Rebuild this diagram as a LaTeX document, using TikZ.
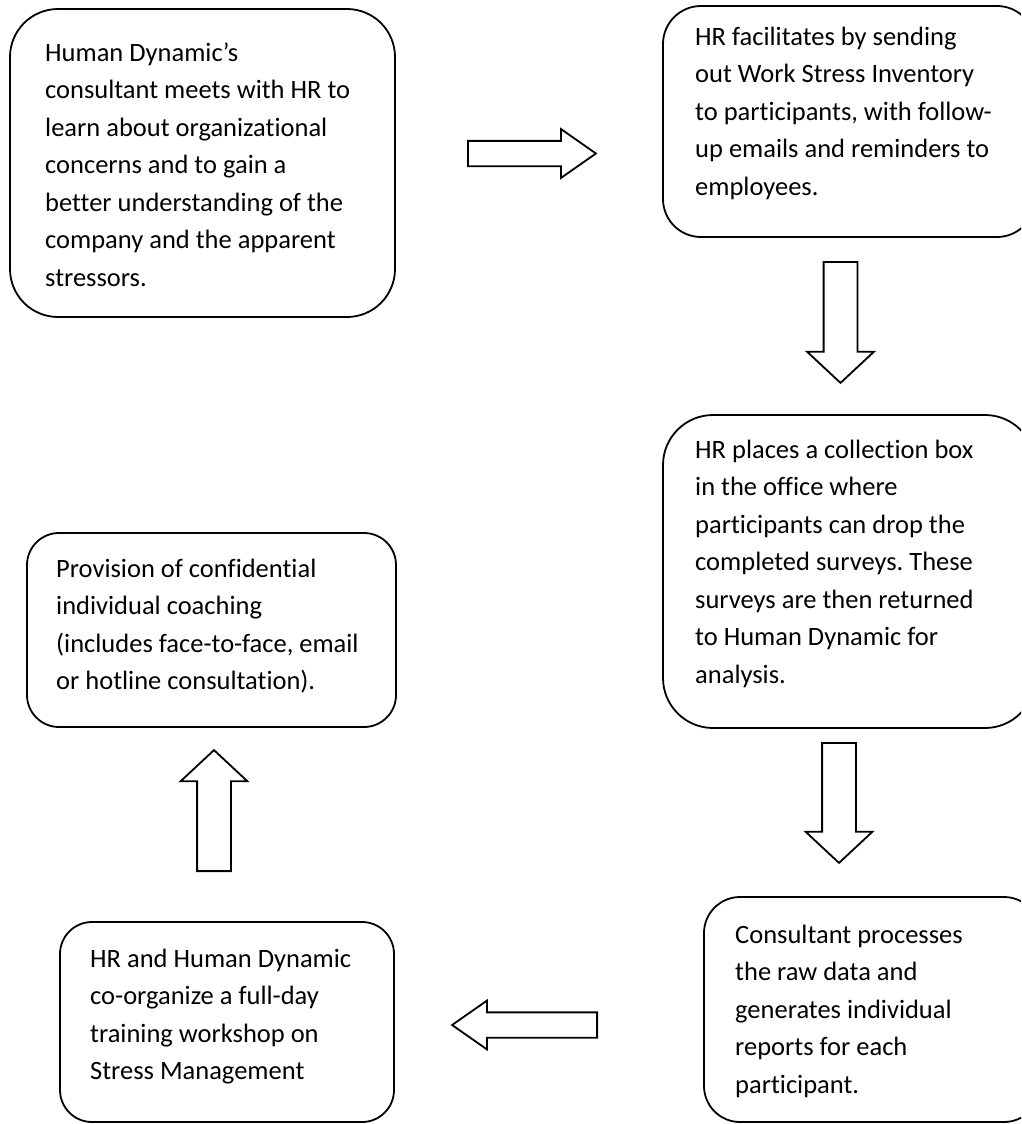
\documentclass[tikz,border=0pt]{standalone}
\usepackage{fontspec}
\setmainfont{Carlito}[Ligatures=NoCommon]
\usetikzlibrary{shapes.arrows}
\frenchspacing

\tikzset{
  stagebox/.style={draw, line width=1.8pt, rectangle, inner sep=0pt},
  stagetext/.style={anchor=north west, inner sep=0pt, align=left, font=\fontsize{26.5}{37.5}\selectfont},
  hollowarrow/.style={draw, line width=1.8pt, single arrow, inner sep=0pt, single arrow head indent=0pt},
  flatarrow/.style={hollowarrow, inner ysep=11.75pt, single arrow head extend=11.75pt, single arrow tip angle=70},
  tallarrow/.style={hollowarrow, inner ysep=16pt, single arrow head extend=16.5pt, single arrow tip angle=94}
}

\begin{document}
\begin{tikzpicture}[x=1pt, y=-1pt]
\clip (0,0) rectangle (1021,1124);
\fill[white] (0,0) rectangle (1021,1124);

% boxes
\node[stagebox, minimum width=385, minimum height=308, rounded corners=48pt] (b1) at (202.5,163) {};
\node[stagebox, minimum width=372, minimum height=231, rounded corners=38pt] (b2) at (849,121.5) {};
\node[stagebox, minimum width=372, minimum height=313, rounded corners=50pt] (b3) at (849,571.5) {};
\node[stagebox, minimum width=336, minimum height=225, rounded corners=36pt] (b4) at (872,1009.5) {};
\node[stagebox, minimum width=334, minimum height=200, rounded corners=32pt] (b5) at (227,1022) {};
\node[stagebox, minimum width=369, minimum height=194, rounded corners=32pt] (b6) at (211.5,630) {};

% texts
\node[stagetext] (t1) at (45,34.75) {\strut Human Dynamic’s\\consultant meets with HR to\\learn about organizational\\concerns and to gain a\\better understanding of the\\company and the apparent\\stressors.};
\node[stagetext] (t2) at (695,18.75) {\strut HR facilitates by sending\\out Work Stress Inventory\\to participants, with follow-\\up emails and reminders to\\employees.};
\node[stagetext] (t3) at (695,431.75) {\strut HR places a collection box\\in the office where\\participants can drop the\\completed surveys. These\\surveys are then returned\\to Human Dynamic for\\analysis.};
\node[stagetext] (t4) at (735,916.75) {\strut Consultant processes\\the raw data and\\generates individual\\reports for each\\participant.};
\node[stagetext] (t5) at (90,940.75) {\strut HR and Human Dynamic\\co-organize a full-day\\training workshop on\\Stress Management};
\node[stagetext] (t6) at (56,550.75) {\strut Provision of confidential\\individual coaching\\(includes face-to-face, email\\or hotline consultation).};

% arrows
\node[flatarrow, minimum height=128pt, anchor=tail] (a12) at (467,153.5) {};
\node[tallarrow, minimum height=121pt, rotate=270, anchor=tail] (a23) at (840.5,261) {};
\node[tallarrow, minimum height=120pt, rotate=270, anchor=tail] (a34) at (839,742) {};
\node[flatarrow, minimum height=145pt, rotate=180, anchor=tail] (a45) at (598,1025) {};
\node[tallarrow, minimum height=121pt, rotate=90, anchor=tail] (a56) at (214,872) {};
\end{tikzpicture}
\end{document}
